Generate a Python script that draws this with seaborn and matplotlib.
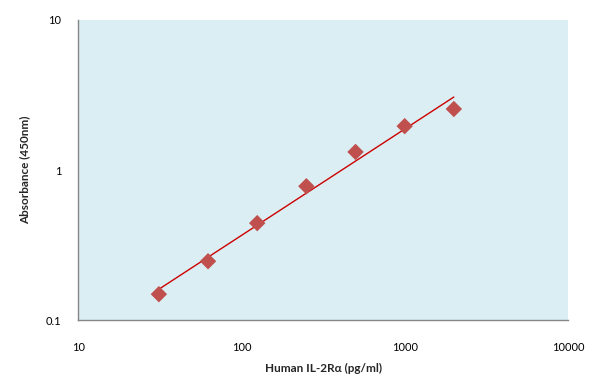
import matplotlib
matplotlib.use("Agg")
import matplotlib.pyplot as plt
import matplotlib.ticker as mticker
import numpy as np
import pandas as pd
import seaborn as sns

# standard curve readings
concentration = [31.25, 62.5, 125, 250, 500, 1000, 2000]
absorbance = [0.149, 0.247, 0.443, 0.78, 1.32, 1.96, 2.55]

x_ticks = [10, 100, 1000, 10000]
y_ticks = [0.1, 1, 10]


def power_fit(x, y):
    # least squares in log-log space, same as an Excel power trendline
    slope, intercept = np.polyfit(np.log10(x), np.log10(y), 1)
    xs = np.logspace(np.log10(min(x)), np.log10(max(x)), 50)
    return pd.DataFrame({"x": xs, "y": 10 ** (intercept + slope * np.log10(xs))})


def main() -> None:
    sns.set_style("white")
    plt.rcParams["font.family"] = ["Lato", "DejaVu Sans"]

    points = pd.DataFrame({"x": concentration, "y": absorbance})
    fit = power_fit(concentration, absorbance)

    fig = plt.figure(figsize=(5.96, 3.90), dpi=100)
    ax = fig.add_axes([0.131, 0.179, 0.822, 0.770])
    ax.set_facecolor("#DBEEF3")

    sns.lineplot(data=fit, x="x", y="y", color="#CC0000", linewidth=1.0, ax=ax)
    sns.scatterplot(data=points, x="x", y="y", marker="D", s=70, color="#C0504D",
                    edgecolor="none", ax=ax, zorder=3)

    ax.set_xscale("log")
    ax.set_yscale("log")
    ax.set_xlim(10, 10000)
    ax.set_ylim(0.1, 10)
    ax.set_xticks(x_ticks)
    ax.set_yticks(y_ticks)
    ax.xaxis.set_major_formatter(mticker.FuncFormatter(lambda v, _: f"{v:g}"))
    ax.yaxis.set_major_formatter(mticker.FuncFormatter(lambda v, _: f"{v:g}"))
    ax.xaxis.set_minor_locator(mticker.LogLocator(base=10, subs=np.arange(2, 10)))
    ax.yaxis.set_minor_locator(mticker.LogLocator(base=10, subs=np.arange(2, 10)))
    ax.xaxis.set_minor_formatter(mticker.NullFormatter())
    ax.yaxis.set_minor_formatter(mticker.NullFormatter())

    for side in ["top", "right"]:
        ax.spines[side].set_visible(False)
    for side in ["left", "bottom"]:
        ax.spines[side].set_color("#868686")
        ax.spines[side].set_linewidth(1.0)

    ax.tick_params(axis="both", which="both", direction="in", color="#868686",
                   labelsize=8, labelcolor="black")
    ax.tick_params(axis="both", which="major", length=4, direction="inout")
    ax.tick_params(axis="both", which="minor", length=3)
    ax.tick_params(axis="x", which="major", pad=14)
    ax.tick_params(axis="y", which="major", pad=10)

    ax.set_xlabel("Human IL-2Rα (pg/ml)", fontsize=8.5, fontweight="bold", labelpad=7)
    ax.set_ylabel("Absorbance (450nm)", fontsize=8.5, fontweight="bold", labelpad=11)

    fig.savefig("out.png", dpi=100)


if __name__ == "__main__":
    main()
